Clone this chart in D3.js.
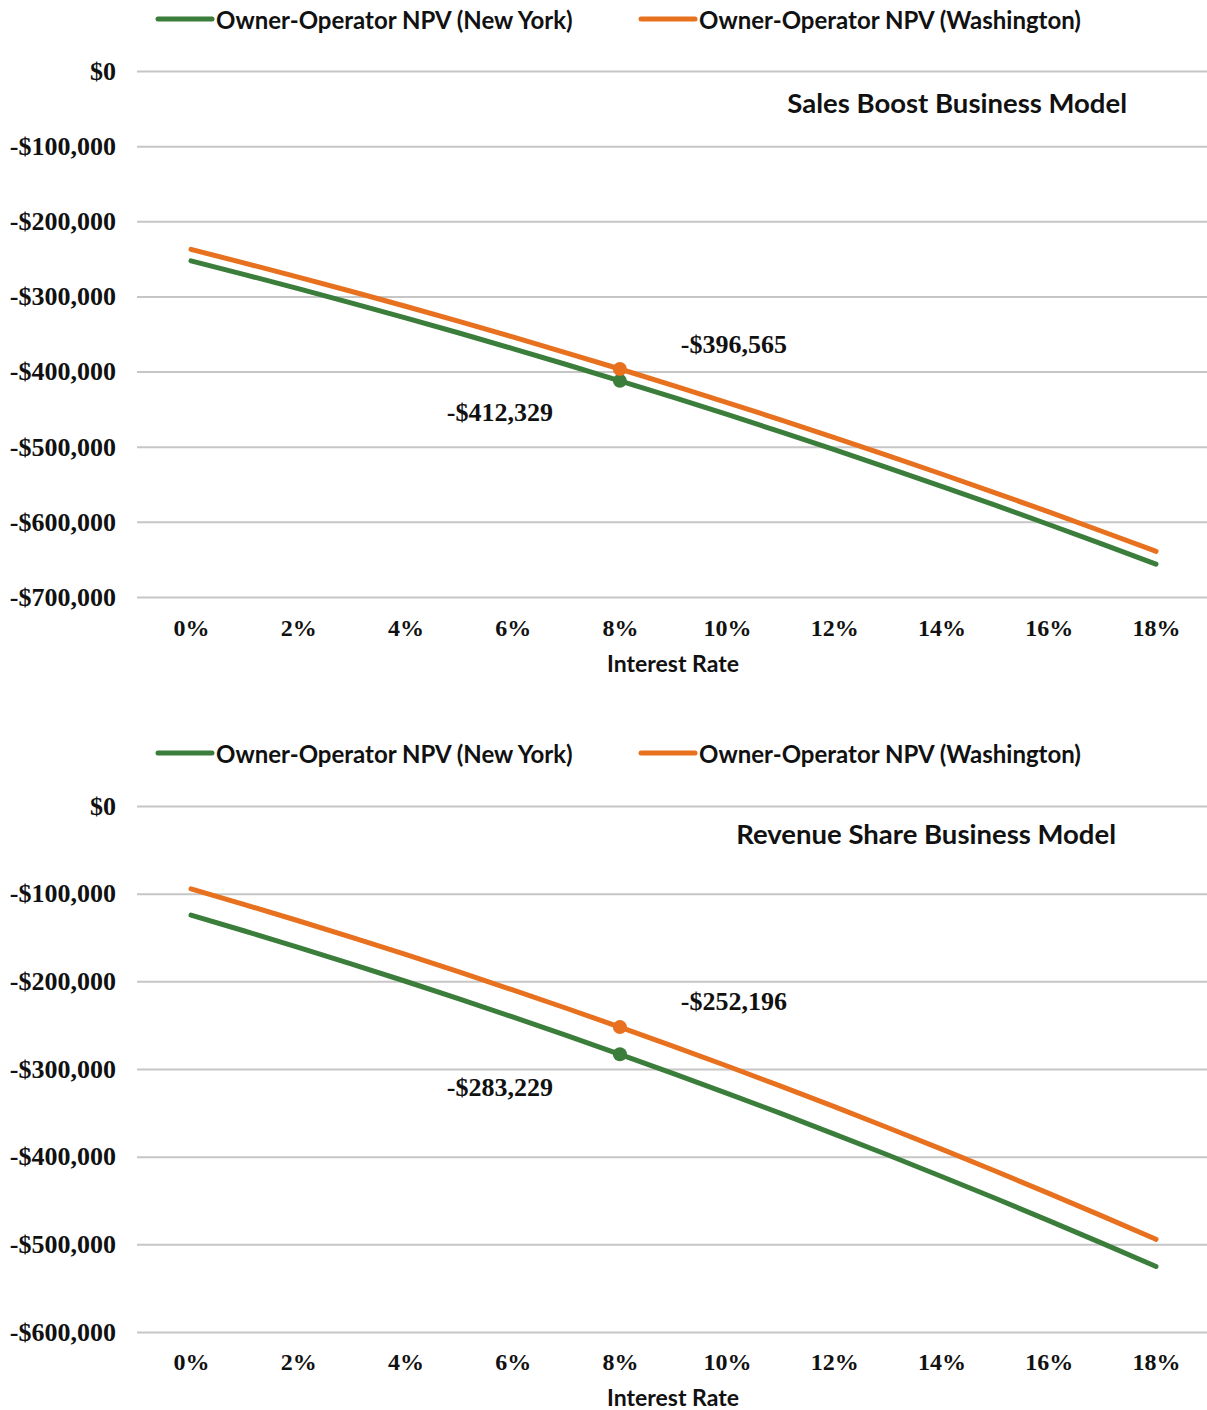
<!DOCTYPE html>
<html><head><meta charset="utf-8">
<script src="https://cdn.jsdelivr.net/npm/d3@7"></script>
<style>body{margin:0;background:#fff}</style>
</head><body>
<svg id="chart" width="1207" height="1410"></svg>
<script>
// ---- data ----
const rates = [0,1,2,3,4,5,6,7,8,9,10,11,12,13,14,15,16,17,18];
const xTickValues = [0,2,4,6,8,10,12,14,16,18];
const xTickLabels = ["0%","2%","4%","6%","8%","10%","12%","14%","16%","18%"];
const seriesNames = ["Owner-Operator NPV (New York)","Owner-Operator NPV (Washington)"];
const panelTitles = ["Sales Boost Business Model","Revenue Share Business Model"];
const xAxisTitle = "Interest Rate";
const highlightRate = 8;

const salesNY = [-252700,-270900,-289600,-308800,-328500,-348700,-369400,-390600,-412329,-434400,-457100,-480300,-503900,-528100,-552700,-577800,-603500,-629600,-656200];
const salesWA = [-237400,-255600,-274300,-293400,-313100,-333200,-353900,-375000,-396565,-418600,-441200,-464300,-487800,-511800,-536300,-561300,-586800,-612800,-639200];
const revNY   = [-124500,-142600,-161300,-180400,-199900,-220000,-240600,-261600,-283229,-305200,-327700,-350700,-374200,-398100,-422600,-447500,-473000,-498900,-525300];
const revWA   = [-94500,-112500,-130900,-149900,-169300,-189300,-209800,-230700,-252196,-274100,-296600,-319600,-343000,-367000,-391400,-416400,-441900,-467800,-494300];

const salesTicks = [0,-100000,-200000,-300000,-400000,-500000,-600000,-700000];
const revTicks   = [0,-100000,-200000,-300000,-400000,-500000,-600000];

// ---- styles ----
const GREEN = "#3b7d3b", ORANGE = "#e8711f", GRID = "#c6c6c6";
const SERIF = "'Liberation Serif','Times New Roman',serif";
const SANS = "Lato, 'Open Sans', sans-serif";

const svg = d3.select("#chart");
const fmt = v => (v < 0 ? "-" : "") + "$" + d3.format(",")(Math.abs(v));

function panel(opts) {
  const g = svg.append("g");
  const x = d3.scaleLinear().domain([0,18]).range([191,1156]);
  const y = d3.scaleLinear().domain([0, d3.min(opts.ticks)]).range([opts.y0, opts.y1]);

  // legend
  const legendX = [158, 641];
  [GREEN, ORANGE].forEach((c,i) => {
    g.append("line").attr("x1", legendX[i]).attr("x2", legendX[i]+54)
      .attr("y1", opts.legendY).attr("y2", opts.legendY)
      .attr("stroke", c).attr("stroke-width", 5).attr("stroke-linecap","round");
    g.append("text").attr("x", legendX[i]+58).attr("y", opts.legendY)
      .attr("dominant-baseline","central")
      .style("font-family", SANS).style("font-weight","700").style("font-size","24px")
      .attr("fill","#111").text(seriesNames[i]);
  });

  // grid + y axis
  const yAxis = d3.axisLeft(y).tickValues(opts.ticks).tickSize(-(1207-137)).tickFormat(fmt).tickPadding(21);
  const ya = g.append("g").attr("transform","translate(137,0)").call(yAxis);
  ya.select(".domain").remove();
  ya.selectAll(".tick line").attr("stroke", GRID).attr("stroke-width", 2);
  ya.selectAll(".tick text").style("font-family", SERIF).style("font-weight","700")
    .style("font-size","26px").attr("fill","#111");

  // x axis
  const xAxis = d3.axisBottom(x).tickValues(xTickValues).tickSize(0)
    .tickFormat((d,i) => xTickLabels[i]).tickPadding(0);
  const xa = g.append("g").attr("transform", `translate(0,${opts.xLabelY})`).call(xAxis);
  xa.select(".domain").remove();
  xa.selectAll(".tick text").attr("dy", null).attr("dominant-baseline","central")
    .style("font-family", SERIF).style("font-weight","700").style("font-size","24px").attr("fill","#111");

  g.append("text").attr("x", 673).attr("y", opts.xTitleY).attr("text-anchor","middle")
    .attr("dominant-baseline","central")
    .style("font-family", SANS).style("font-weight","700").style("font-size","23px")
    .attr("fill","#111").text(xAxisTitle);

  // title
  g.append("text").attr("x", opts.titleX).attr("y", opts.titleY).attr("text-anchor","end")
    .attr("dominant-baseline","central")
    .style("font-family", SANS).style("font-weight","700").style("font-size","27.5px")
    .attr("fill","#111").text(opts.title);

  // lines
  const line = d3.line().x((d,i) => x(rates[i])).y(d => y(d)).curve(d3.curveMonotoneX);
  [[opts.ny, GREEN],[opts.wa, ORANGE]].forEach(([data,c]) => {
    g.append("path").datum(data).attr("d", line).attr("fill","none")
      .attr("stroke", c).attr("stroke-width", 5).attr("stroke-linecap","round");
  });

  // highlight points and labels
  const hi = rates.indexOf(highlightRate);
  [[opts.ny, GREEN, -120, opts.nyDy],[opts.wa, ORANGE, 114, opts.waDy]].forEach(([data,c,dx,dy]) => {
    const px = x(rates[hi]), py = y(data[hi]);
    g.append("circle").attr("cx", px).attr("cy", py).attr("r", 7).attr("fill", c);
    g.append("text").attr("x", px+dx).attr("y", py+dy).attr("text-anchor","middle")
      .attr("dominant-baseline","central")
      .style("font-family", SERIF).style("font-weight","700").style("font-size","26px")
      .attr("fill","#111").text(fmt(data[hi]));
  });
}

panel({ ticks: salesTicks, y0: 71, y1: 597, legendY: 19, xLabelY: 628, xTitleY: 663,
  title: panelTitles[0], titleX: 1127, titleY: 102, ny: salesNY, wa: salesWA, nyDy: 32, waDy: -24 });
panel({ ticks: revTicks, y0: 806, y1: 1332, legendY: 753, xLabelY: 1362, xTitleY: 1397,
  title: panelTitles[1], titleX: 1116, titleY: 833, ny: revNY, wa: revWA, nyDy: 33, waDy: -26 });
</script>
</body></html>
